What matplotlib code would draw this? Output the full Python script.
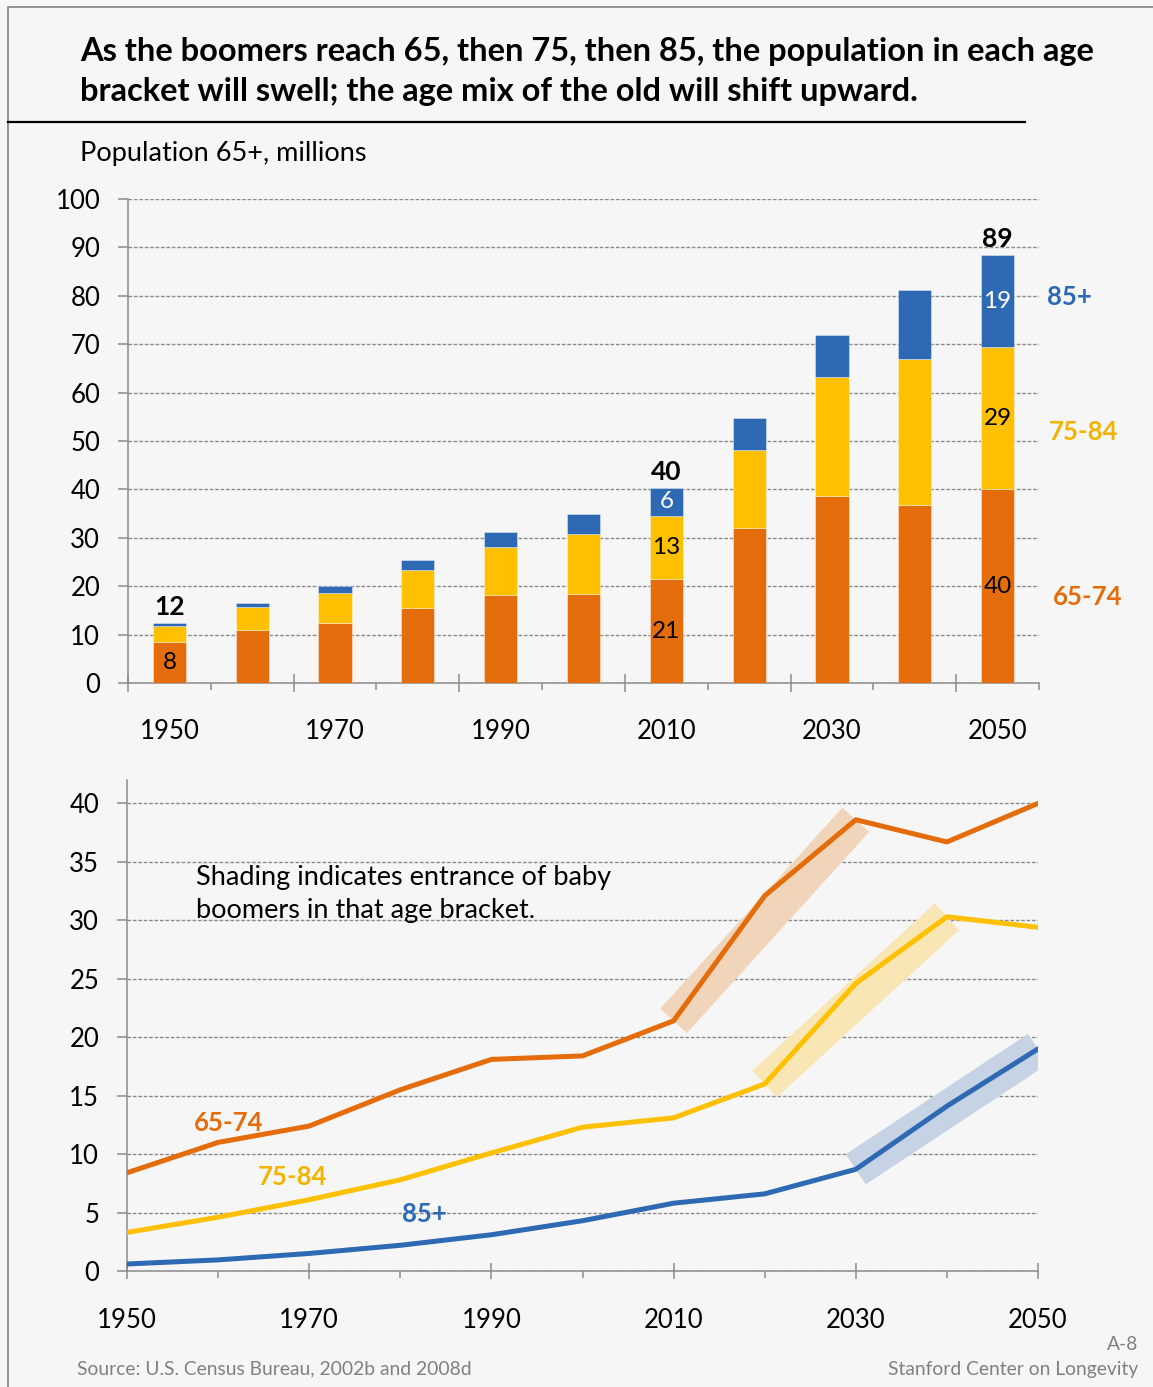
import matplotlib
matplotlib.use('Agg')
import matplotlib.pyplot as plt
import matplotlib.transforms as mtransforms
from matplotlib.patches import Rectangle
from matplotlib.lines import Line2D

# ---------------- data ----------------
years = [1950, 1960, 1970, 1980, 1990, 2000, 2010, 2020, 2030, 2040, 2050]
year_labels = ['1950', '1970', '1990', '2010', '2030', '2050']
age_65_74 = [8.4, 11.0, 12.4, 15.5, 18.1, 18.4, 21.4, 32.1, 38.6, 36.7, 40.0]
age_75_84 = [3.3, 4.6, 6.1, 7.8, 10.1, 12.3, 13.1, 16.0, 24.6, 30.3, 29.4]
age_85p = [0.6, 0.95, 1.5, 2.2, 3.1, 4.3, 5.8, 6.6, 8.7, 14.1, 19.0]
series_names = ['65-74', '75-84', '85+']

lbl_65_74 = ['8', '', '', '', '', '', '21', '', '', '', '40']
lbl_75_84 = ['', '', '', '', '', '', '13', '', '', '', '29']
lbl_85p = ['', '', '', '', '', '', '6', '', '', '', '19']
lbl_total = ['12', '', '', '', '', '', '40', '', '', '', '89']

band_start = [2010, 2020, 2030]
band_end = [2030, 2040, 2050]

top_yticks = [0, 10, 20, 30, 40, 50, 60, 70, 80, 90, 100]
bot_yticks = [0, 5, 10, 15, 20, 25, 30, 35, 40]

# ---------------- style ----------------
W, H, DPI = 1153, 1387, 100
BG = '#f6f6f6'
ORANGE = '#E46C0A'
YELLOW = '#FFC000'
BLUE = '#2E69B3'
LBL_COLORS = ['#E46C0A', '#F2B400', '#2E69B3']
BAND_COLORS = ['#F1D5BA', '#F8E6B4', '#C5D3E4']
AXC = '#8c8c8c'
GRIDC = '#8a8a8a'
FONT = 'Lato'

plt.rcParams['font.family'] = [FONT, 'DejaVu Sans']

fig = plt.figure(figsize=(W / DPI, H / DPI), dpi=DPI, facecolor=BG)

def fx(px):
    return px / W

def fy(py):
    return 1 - py / H

# frame and title
fig.patches.append(Rectangle((fx(8), -0.02), 1.05, fy(7) + 0.02, transform=fig.transFigure,
                             fill=False, edgecolor='#808080', lw=1.2))
fig.text(fx(80), fy(52), 'As the boomers reach 65, then 75, then 85, the population in each age',
         fontsize=23.5, fontweight='bold', va='center', ha='left')
fig.text(fx(80), fy(92), 'bracket will swell; the age mix of the old will shift upward.',
         fontsize=23.5, fontweight='bold', va='center', ha='left')
fig.lines.append(Line2D([fx(8), fx(1025)], [fy(122), fy(122)], transform=fig.transFigure,
                        color='black', lw=1.6))
fig.text(fx(80), fy(154), 'Population 65+, millions', fontsize=19.5, va='center', ha='left')

# ---------------- top: stacked bars ----------------
ax1 = fig.add_axes([fx(128), fy(683), fx(1039) - fx(128), fy(199) - fy(683)])
ax1.set_facecolor(BG)
xpos = list(range(len(years)))
bottoms2 = [a for a in age_65_74]
bottoms3 = [a + b for a, b in zip(age_65_74, age_75_84)]
edge = (1, 1, 1, 0.45)
b1 = ax1.bar(xpos, age_65_74, width=0.4, color=ORANGE, edgecolor=edge, lw=0.6, zorder=3)
b2 = ax1.bar(xpos, age_75_84, width=0.4, bottom=bottoms2, color=YELLOW, edgecolor=edge, lw=0.6, zorder=3)
b3 = ax1.bar(xpos, age_85p, width=0.4, bottom=bottoms3, color=BLUE, edgecolor=edge, lw=0.6, zorder=3)
ax1.bar_label(b1, labels=lbl_65_74, label_type='center', fontsize=17.5, color='black')
ax1.bar_label(b2, labels=lbl_75_84, label_type='center', fontsize=17.5, color='black')
ax1.bar_label(b3, labels=lbl_85p, label_type='center', fontsize=17.5, color='white')
ax1.bar_label(b3, labels=lbl_total, label_type='edge', padding=3, fontsize=19,
              fontweight='bold', color='black')

ax1.set_xlim(-0.5, len(years) - 0.5)
ax1.set_ylim(0, 100)
ax1.set_yticks(top_yticks)
ax1.set_yticklabels([str(v) for v in top_yticks], fontsize=18.5)
ax1.yaxis.grid(True, color=GRIDC, lw=1.0, linestyle=(0, (2.6, 1.3)), zorder=1)
ax1.set_axisbelow(True)
ax1.tick_params(axis='y', direction='out', length=7, width=1.1, color=AXC, pad=13)
# category labels every other year
ax1.set_xticks(xpos[::2])
ax1.set_xticklabels(year_labels, fontsize=18.5)
ax1.tick_params(axis='x', length=0, pad=26)
# tick marks between categories
bounds_major = [i - 0.5 for i in range(0, len(years), 2)]
bounds_minor = [i + 0.5 for i in range(0, len(years), 2)]
ax1.set_xticks(bounds_minor, minor=True)
ax1.tick_params(axis='x', which='minor', direction='out', length=5, width=1.1, color=AXC)
sec1 = ax1.secondary_xaxis('bottom')
sec1.set_xticks(bounds_major)
sec1.set_xticklabels([''] * len(bounds_major))
sec1.tick_params(direction='inout', length=13, width=1.1, color=AXC)
sec1.spines['bottom'].set_visible(False)
for s in ['top', 'right']:
    ax1.spines[s].set_visible(False)
for s in ['left', 'bottom']:
    ax1.spines[s].set_color(AXC)
    ax1.spines[s].set_linewidth(1.1)

# series labels at right
tr1 = mtransforms.blended_transform_factory(ax1.transAxes, ax1.transData)
right_lbl_x = [1.015, 1.011, 1.009]
right_lbl_y = [17.8, 51.9, 79.8]
for name, c, xx, yy in zip(series_names, LBL_COLORS, right_lbl_x, right_lbl_y):
    ax1.text(xx, yy, name, transform=tr1, color=c, fontsize=18.5, fontweight='bold',
             ha='left', va='center', clip_on=False)

# ---------------- bottom: lines ----------------
ax2 = fig.add_axes([fx(127), fy(1271), fx(1038) - fx(127), fy(780) - fy(1271)])
ax2.set_facecolor(BG)
series = [age_65_74, age_75_84, age_85p]
colors = [ORANGE, YELLOW, BLUE]
for vals, c, bc, s, e in zip(series, colors, BAND_COLORS, band_start, band_end):
    i0, i1 = years.index(s), years.index(e)
    ax2.plot([s, e], [vals[i0], vals[i1]], color=bc, lw=26, solid_capstyle='butt',
             zorder=2)
    ax2.plot(years, vals, color=c, lw=3.6, solid_capstyle='round', solid_joinstyle='round', zorder=3)

ax2.set_xlim(1950, 2050)
ax2.set_ylim(0, 42)
ax2.set_yticks(bot_yticks)
ax2.set_yticklabels([str(v) for v in bot_yticks], fontsize=18.5)
ax2.yaxis.grid(True, color=GRIDC, lw=1.0, linestyle=(0, (2.6, 1.3)), zorder=1)
ax2.set_axisbelow(True)
ax2.tick_params(axis='y', direction='out', length=7, width=1.1, color=AXC, pad=13)
ax2.set_xticks(years[::2])
ax2.set_xticklabels(year_labels, fontsize=18.5)
ax2.tick_params(axis='x', direction='inout', length=12, width=1.1, color=AXC, pad=21)
ax2.set_xticks(years[1::2], minor=True)
ax2.tick_params(axis='x', which='minor', direction='out', length=5, width=1.1, color=AXC)
for s in ['top', 'right']:
    ax2.spines[s].set_visible(False)
for s in ['left', 'bottom']:
    ax2.spines[s].set_color(AXC)
    ax2.spines[s].set_linewidth(1.1)

line_lbl_x = [1961.2, 1968.2, 1982.6]
line_lbl_y = [12.7, 8.0, 4.9]
for name, c, xx, yy in zip(series_names, LBL_COLORS, line_lbl_x, line_lbl_y):
    ax2.text(xx, yy, name, color=c, fontsize=18.5, fontweight='bold', ha='center', va='center', zorder=4)

tr2 = mtransforms.blended_transform_factory(ax2.transAxes, ax2.transData)
ax2.text(0.0757, 33.7, 'Shading indicates entrance of baby', transform=tr2,
         fontsize=19.5, ha='left', va='center', zorder=4)
ax2.text(0.0757, 30.8, 'boomers in that age bracket.', transform=tr2,
         fontsize=19.5, ha='left', va='center', zorder=4)

# footer
fig.text(fx(77), fy(1369), 'Source: U.S. Census Bureau, 2002b and 2008d', fontsize=13.9,
         color='#808080', ha='left', va='center')
fig.text(fx(1138), fy(1344), 'A-8', fontsize=13.9, color='#808080', ha='right', va='center')
fig.text(fx(1138), fy(1369), 'Stanford Center on Longevity', fontsize=13.9, color='#808080',
         ha='right', va='center')

fig.savefig('out.png', dpi=DPI, facecolor=BG)
